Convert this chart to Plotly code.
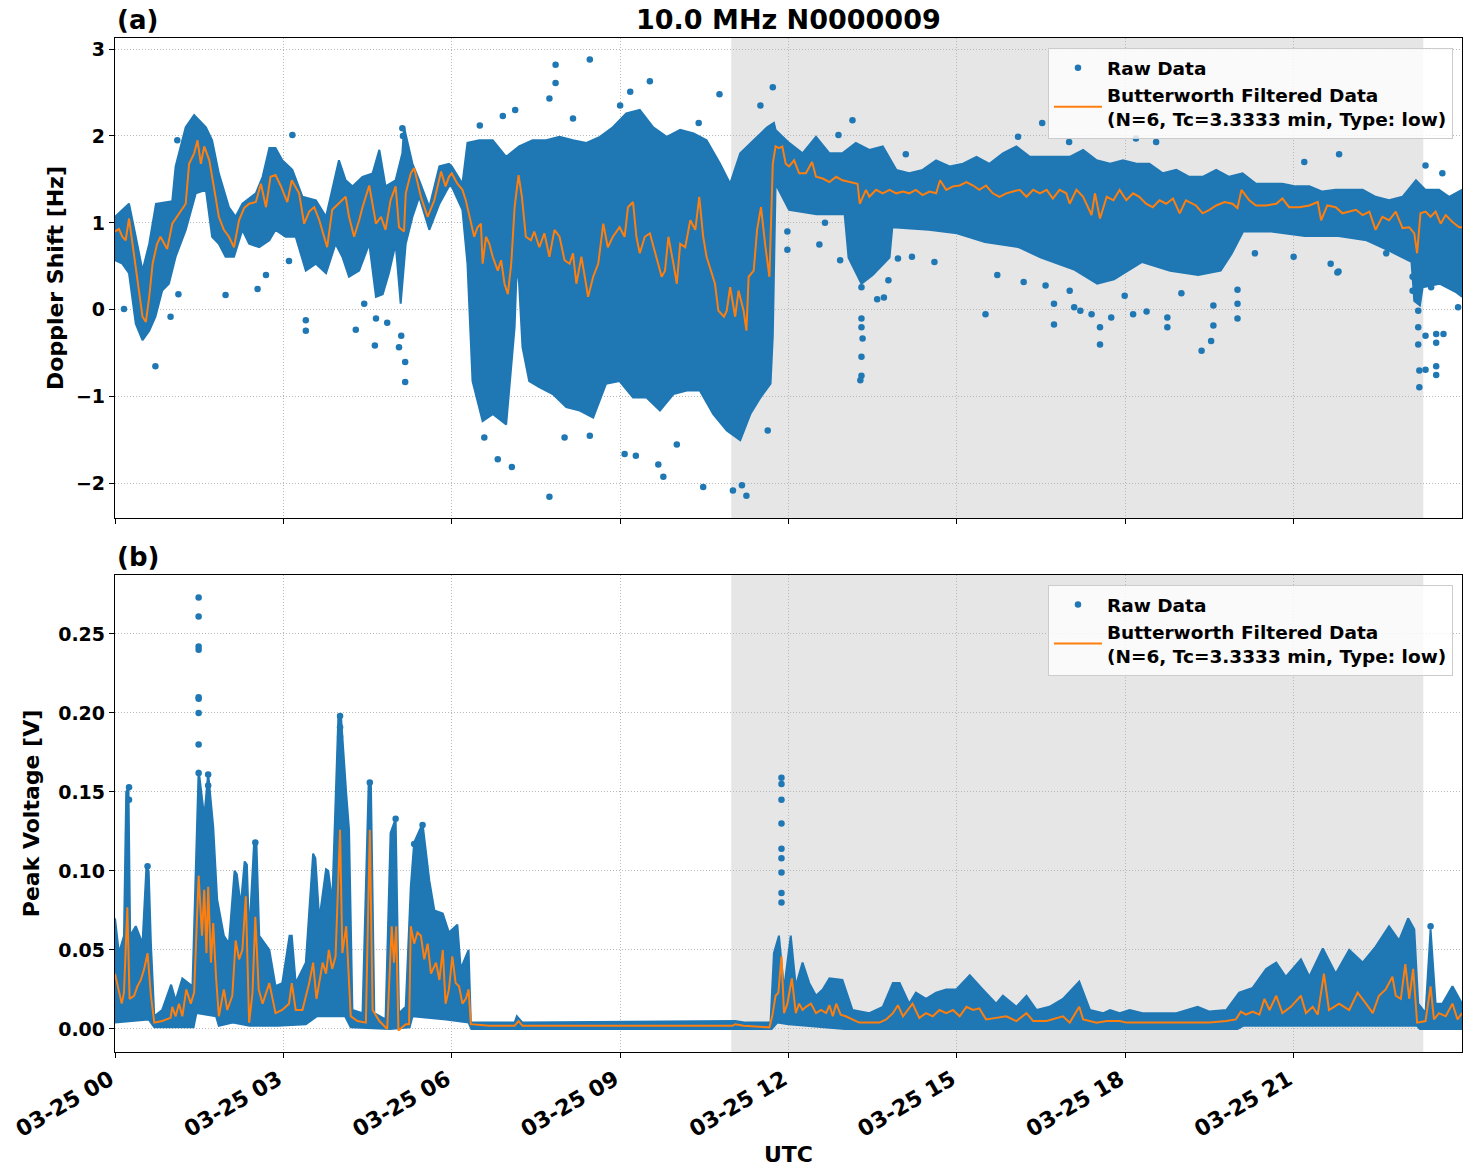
import pandas as pd
import plotly.graph_objects as go

BASE_DAY = "2024-03-25"
TITLE = "10.0 MHz N0000009"
TICK_HOURS = [0, 3, 6, 9, 12, 15, 18, 21]
TICK_LABELS = ["03-25 00", "03-25 03", "03-25 06", "03-25 09",
               "03-25 12", "03-25 15", "03-25 18", "03-25 21"]
NIGHT_START_H = 10.98
NIGHT_END_H = 23.31

# ---------- (a) Doppler shift [Hz] ----------
DOP_FILT = [(0.00,0.90),(0.07,0.93),(0.13,0.84),(0.19,0.80),(0.25,1.05),(0.34,0.61),(0.40,0.38),(0.49,-0.08),(0.55,-0.14),
 (0.61,0.15),(0.67,0.53),(0.75,0.76),(0.81,0.84),(0.93,0.70),(1.02,0.99),(1.14,1.11),(1.26,1.22),(1.32,1.68),(1.41,1.80),
 (1.47,1.95),(1.53,1.68),(1.59,1.88),(1.68,1.72),(1.76,1.42),(1.85,1.07),(1.94,0.92),(2.03,0.84),(2.12,0.72),(2.21,1.03),
 (2.30,1.17),(2.39,1.22),(2.51,1.24),(2.60,1.45),(2.69,1.18),(2.77,1.53),(2.86,1.55),(2.95,1.43),(3.07,1.24),(3.15,1.49),
 (3.28,1.34),(3.37,0.99),(3.46,1.13),(3.55,1.18),(3.64,1.03),(3.78,0.72),(3.87,1.15),(3.99,1.22),(4.11,1.30),(4.17,1.07),
 (4.26,0.84),(4.35,1.03),(4.41,1.18),(4.53,1.43),(4.65,0.99),(4.74,1.07),(4.82,0.92),(4.91,1.26),(5.00,1.42),(5.06,0.95),
 (5.15,0.90),(5.18,1.34),(5.27,1.57),(5.33,1.63),(5.45,1.30),(5.57,1.07),(5.69,1.26),(5.81,1.59),(5.89,1.42),(5.95,1.53),
 (6.00,1.57),(6.10,1.45),(6.19,1.38),(6.25,1.26),(6.34,0.99),(6.40,0.84),(6.46,0.95),(6.52,0.99),(6.55,0.53),(6.61,0.84),
 (6.67,0.76),(6.73,0.61),(6.82,0.45),(6.88,0.57),(6.94,0.30),(7.00,0.18),(7.06,0.53),(7.12,1.18),(7.19,1.55),(7.25,1.30),
 (7.32,0.84),(7.41,0.80),(7.47,0.90),(7.56,0.72),(7.65,0.88),(7.74,0.61),(7.83,0.92),(7.92,0.84),(8.01,0.57),(8.10,0.53),
 (8.16,0.65),(8.22,0.30),(8.31,0.61),(8.43,0.15),(8.52,0.38),(8.61,0.53),(8.70,0.99),(8.78,0.72),(8.87,0.84),(8.99,0.95),
 (9.08,0.84),(9.14,1.18),(9.23,1.24),(9.29,0.84),(9.35,0.65),(9.44,0.84),(9.53,0.88),(9.65,0.61),(9.74,0.38),(9.80,0.45),
 (9.86,0.84),(9.95,0.53),(10.01,0.30),(10.07,0.76),(10.16,0.72),(10.25,1.03),(10.34,0.92),(10.41,1.30),(10.48,0.84),
 (10.54,0.61),(10.60,0.49),(10.69,0.30),(10.75,-0.01),(10.85,-0.08),(10.90,-0.01),(10.96,0.26),(11.05,-0.08),(11.11,0.22),
 (11.20,-0.01),(11.25,-0.24),(11.29,0.38),(11.38,0.45),(11.44,0.92),(11.51,1.18),(11.59,0.72),(11.66,0.38),(11.72,1.68),
 (11.77,1.88),(11.83,1.86),(11.89,1.88),(11.95,1.68),(12.01,1.65),(12.10,1.72),(12.19,1.57),(12.31,1.57),(12.42,1.70),
 (12.49,1.53),(12.61,1.51),(12.73,1.47),(12.85,1.53),(12.96,1.49),(13.11,1.47),(13.23,1.45),(13.27,1.22),(13.38,1.38),
 (13.44,1.30),(13.56,1.38),(13.68,1.34),(13.80,1.38),(13.92,1.34),(14.04,1.36),(14.15,1.34),(14.27,1.38),(14.39,1.32),
 (14.51,1.36),(14.63,1.34),(14.70,1.49),(14.81,1.38),(14.93,1.42),(15.05,1.43),(15.17,1.47),(15.29,1.43),(15.40,1.38),
 (15.52,1.43),(15.64,1.34),(15.76,1.30),(15.88,1.34),(16.00,1.36),(16.12,1.38),(16.24,1.30),(16.36,1.38),(16.48,1.34),
 (16.60,1.38),(16.71,1.28),(16.83,1.38),(16.95,1.34),(17.01,1.22),(17.13,1.38),(17.25,1.30),(17.40,1.09),(17.46,1.34),
 (17.55,1.05),(17.67,1.30),(17.79,1.26),(17.90,1.38),(18.02,1.26),(18.14,1.34),(18.25,1.30),(18.37,1.22),(18.49,1.18),
 (18.61,1.26),(18.73,1.22),(18.85,1.28),(18.97,1.11),(19.08,1.26),(19.26,1.20),(19.38,1.11),(19.50,1.15),(19.62,1.20),
 (19.77,1.24),(19.91,1.22),(20.00,1.17),(20.07,1.38),(20.21,1.26),(20.33,1.20),(20.51,1.20),(20.69,1.22),(20.80,1.28),
 (20.92,1.18),(21.10,1.18),(21.28,1.20),(21.43,1.24),(21.49,1.03),(21.60,1.20),(21.75,1.18),(21.87,1.11),(21.99,1.13),
 (22.11,1.15),(22.23,1.09),(22.35,1.13),(22.46,0.92),(22.58,1.07),(22.70,1.03),(22.82,1.13),(22.94,0.94),(23.06,0.95),
 (23.15,0.88),(23.20,0.65),(23.26,1.11),(23.35,1.13),(23.44,1.07),(23.53,1.13),(23.62,0.99),(23.71,1.09),(23.83,1.01),
 (23.95,0.95),(24.00,0.95)]

DOP_RAW_UPPER = [(0.00,1.07),(0.25,1.22),(0.37,0.84),(0.49,0.45),(0.61,0.76),(0.73,1.22),(1.02,1.25),(1.08,1.65),
 (1.26,2.10),(1.41,2.24),(1.62,2.10),(1.73,1.95),(1.85,1.57),(2.03,1.18),(2.15,1.07),(2.27,1.22),(2.51,1.34),(2.63,1.53),
 (2.75,1.86),(2.86,1.86),(2.98,1.72),(3.16,1.61),(3.34,1.30),(3.58,1.26),(3.76,1.07),(3.99,1.72),(4.11,1.49),(4.23,1.42),
 (4.41,1.53),(4.59,1.57),(4.71,1.84),(4.82,1.42),(5.00,1.49),(5.12,1.80),(5.15,2.10),(5.30,1.68),(5.42,1.49),(5.60,1.18),
 (5.78,1.65),(5.95,1.68),(6.00,1.65),(6.19,1.45),(6.28,1.92),(6.49,1.95),(6.73,1.95),(6.97,1.76),(7.20,1.88),(7.44,1.95),
 (7.68,1.95),(7.92,1.99),(8.16,1.95),(8.40,1.92),(8.64,1.99),(8.87,2.10),(9.11,2.26),(9.35,2.30),(9.59,2.10),(9.83,1.99),
 (10.07,2.07),(10.31,2.03),(10.54,1.95),(10.78,1.68),(10.96,1.45),(11.14,1.80),(11.38,1.95),(11.62,2.10),(11.74,2.15),
 (11.77,2.07),(12.01,1.92),(12.25,1.80),(12.49,1.99),(12.73,1.80),(12.96,1.80),(13.20,1.92),(13.44,1.84),(13.68,1.88),
 (13.92,1.61),(14.15,1.57),(14.39,1.61),(14.63,1.72),(14.87,1.65),(15.11,1.68),(15.35,1.76),(15.58,1.68),(15.82,1.80),
 (16.06,1.88),(16.30,1.76),(16.54,1.76),(16.77,1.76),(17.01,1.76),(17.25,1.84),(17.49,1.72),(17.73,1.68),(17.96,1.72),
 (18.20,1.68),(18.43,1.68),(18.67,1.57),(18.91,1.61),(19.14,1.53),(19.38,1.53),(19.62,1.61),(19.85,1.53),(20.09,1.57),
 (20.33,1.45),(20.56,1.45),(20.80,1.45),(21.04,1.42),(21.28,1.42),(21.51,1.36),(21.75,1.38),(21.99,1.38),(22.23,1.38),
 (22.46,1.30),(22.70,1.26),(22.94,1.30),(23.18,1.49),(23.35,1.38),(23.59,1.38),(23.77,1.30),(24.00,1.38)]

DOP_RAW_LOWER = [(0.00,0.57),(0.13,0.53),(0.25,0.42),(0.37,-0.16),(0.49,-0.35),(0.61,-0.24),(0.72,-0.08),(0.84,0.22),
 (0.96,0.30),(1.08,0.61),(1.26,0.92),(1.44,1.34),(1.62,1.38),(1.73,0.84),(1.85,0.76),(1.97,0.61),(2.12,0.61),(2.27,0.92),
 (2.39,0.76),(2.57,0.72),(2.75,0.80),(2.86,0.92),(3.04,0.84),(3.22,0.84),(3.40,0.45),(3.58,0.53),(3.76,0.42),(3.93,0.76),
 (4.05,0.61),(4.17,0.38),(4.35,0.45),(4.53,0.76),(4.65,0.15),(4.77,0.18),(4.88,0.42),(5.00,0.76),(5.09,0.07),(5.18,0.76),
 (5.30,1.07),(5.42,1.30),(5.60,0.92),(5.78,1.22),(5.95,1.42),(6.00,1.42),(6.19,1.15),(6.28,0.53),(6.37,-0.82),(6.55,-1.28),
 (6.73,-1.20),(6.97,-1.32),(7.12,-0.20),(7.16,0.53),(7.20,0.30),(7.26,-0.43),(7.38,-0.82),(7.56,-0.89),(7.80,-0.97),
 (8.04,-1.12),(8.28,-1.16),(8.52,-1.24),(8.75,-0.85),(8.99,-0.82),(9.23,-1.01),(9.47,-1.01),(9.71,-1.16),(9.95,-0.97),
 (10.19,-0.93),(10.42,-0.93),(10.66,-1.20),(10.90,-1.39),(11.14,-1.50),(11.32,-1.20),(11.50,-1.01),(11.68,-0.85),
 (11.72,-0.30),(11.74,0.53),(11.77,1.45),(12.01,1.15),(12.50,1.10),(13.00,1.10),(13.07,0.60),(13.30,0.30),(13.50,0.40),
 (13.80,0.60),(13.85,0.95),(14.50,0.92),(15.00,0.88),(15.50,0.78),(16.10,0.72),(16.50,0.60),(17.10,0.46),(17.50,0.30),
 (17.80,0.35),(18.30,0.55),(18.80,0.45),(19.30,0.40),(19.70,0.45),(19.90,0.65),(20.10,0.90),(20.60,0.90),(21.20,0.85),
 (21.80,0.85),(22.30,0.80),(22.70,0.68),(23.10,0.55),(23.15,0.10),(23.25,0.05),(23.30,0.26),(23.60,0.30),(23.90,0.20),
 (24.00,0.15)]

DOP_RAW_SCATTER = [(0.16,0.01),(0.72,-0.65),(1.11,1.95),(3.16,2.01),(3.40,-0.24),(3.40,-0.12),(5.12,2.09),(5.17,-0.83),
 (5.17,-0.60),(5.06,-0.43),(4.63,-0.41),(4.29,-0.23),(4.44,0.07),(1.97,0.17),(2.54,0.24),(2.69,0.40),(3.10,0.56),(0.99,-0.08),
 (1.13,0.18),(5.13,2.00),(5.10,-0.30),(4.65,-0.10),(4.85,-0.15),(7.85,2.82),(8.46,2.88),(7.85,2.61),(9.53,2.63),(9.18,2.51),
 (7.13,2.30),(7.74,2.43),(6.91,2.23),(10.77,2.48),(11.72,2.56),(7.74,-2.15),(7.07,-1.81),(6.82,-1.72),(9.77,-1.92),
 (10.48,-2.04),(11.25,-2.14),(11.01,-2.08),(11.17,-2.02),(6.58,-1.47),(8.01,-1.47),(8.46,-1.45),(9.08,-1.66),(9.28,-1.68),
 (9.68,-1.78),(10.01,-1.55),(11.63,-1.39),(8.16,2.20),(9.00,2.35),(10.40,2.15),(6.50,2.12),(11.50,2.35),(13.14,2.18),
 (16.52,2.15),(17.00,1.93),(16.09,1.99),(12.89,2.01),(14.09,1.79),
 (11.98,0.90),(11.98,0.69),(12.65,1.00),(12.55,0.75),(12.92,0.57),(13.30,0.26),(13.30,-0.10),(13.30,-0.20),(13.32,-0.33),
 (13.30,-0.54),(13.30,-0.76),(13.28,-0.81),(13.58,0.12),(13.70,0.14),(13.78,0.34),(13.95,0.59),(14.20,0.61),(14.60,0.55),
 (15.51,-0.05),(15.72,0.40),(16.19,0.32),(16.58,0.28),(16.73,-0.17),(16.73,0.07),(17.01,0.22),(17.09,0.03),(17.20,-0.01),
 (17.40,-0.05),(17.55,-0.20),(17.55,-0.40),(17.75,-0.09),(17.99,0.16),(18.14,-0.05),(18.38,-0.02),(18.75,-0.20),
 (18.75,-0.09),(19.00,0.19),(19.36,-0.47),(19.53,-0.36),(19.57,-0.18),(19.57,0.05),(20.00,-0.10),(20.00,0.07),(20.00,0.23),
 (20.31,0.65),(21.00,0.61),(21.66,0.53),(21.80,0.44),(22.65,0.65),(23.12,0.38),(23.12,0.22),(23.22,-0.01),(23.22,-0.20),
 (23.22,-0.40),(23.24,-0.70),(23.24,-0.89),(23.35,-0.69),(23.35,-0.30),(23.54,-0.28),(23.54,-0.65),(23.54,-0.75),
 (23.54,-0.38),(23.45,0.26),(23.67,-0.28),(21.78,0.43),(23.93,0.03),(21.81,1.79),(18.55,1.93),(18.19,1.97),
 (23.35,1.66),(23.65,1.57),(21.19,1.70)]

# ---------- (b) Peak voltage [V] ----------
VOLT_FILT = [(0.00,0.035),(0.07,0.023),(0.12,0.016),(0.16,0.023),(0.22,0.077),(0.26,0.019),(0.34,0.021),(0.40,0.027),
 (0.46,0.031),(0.52,0.038),(0.58,0.048),(0.64,0.021),(0.70,0.004),(0.84,0.005),(0.99,0.007),(1.02,0.014),(1.08,0.008),
 (1.14,0.016),(1.20,0.008),(1.27,0.025),(1.35,0.016),(1.41,0.023),(1.49,0.097),(1.55,0.059),(1.59,0.088),(1.63,0.048),
 (1.66,0.090),(1.71,0.042),(1.75,0.067),(1.80,0.033),(1.85,0.008),(1.94,0.025),(2.00,0.012),(2.09,0.021),(2.15,0.056),
 (2.21,0.044),(2.27,0.050),(2.33,0.084),(2.39,0.004),(2.45,0.023),(2.50,0.071),(2.56,0.025),(2.63,0.016),(2.75,0.029),
 (2.86,0.010),(2.98,0.012),(3.10,0.016),(3.15,0.029),(3.22,0.012),(3.34,0.012),(3.46,0.029),(3.53,0.042),(3.59,0.019),
 (3.70,0.042),(3.76,0.035),(3.81,0.050),(3.87,0.038),(3.93,0.046),(4.01,0.126),(4.05,0.048),(4.12,0.065),(4.20,0.008),
 (4.32,0.005),(4.47,0.004),(4.54,0.126),(4.59,0.012),(4.71,0.005),(4.85,0.000),(4.93,0.065),(4.97,0.042),(5.01,0.065),
 (5.05,-0.001),(5.18,0.003),(5.24,0.003),(5.27,0.065),(5.33,0.054),(5.39,0.061),(5.45,0.059),(5.51,0.044),(5.57,0.054),
 (5.63,0.035),(5.72,0.042),(5.78,0.031),(5.84,0.050),(5.89,0.016),(5.95,0.025),(6.01,0.046),(6.07,0.029),(6.13,0.027),
 (6.19,0.016),(6.25,0.019),(6.30,0.025),(6.34,0.003),(6.67,0.002),(7.12,0.002),(7.19,0.005),(7.26,0.002),(8.16,0.002),
 (10.50,0.002),(11.00,0.002),(11.05,0.003),(11.20,0.002),(11.66,0.001),(11.71,0.008),(11.77,0.021),(11.82,0.023),
 (11.875,0.046),(11.92,0.010),(11.98,0.016),(12.06,0.032),(12.13,0.010),(12.19,0.016),(12.25,0.012),(12.31,0.014),
 (12.40,0.016),(12.49,0.010),(12.58,0.012),(12.67,0.010),(12.73,0.015),(12.79,0.008),(12.85,0.016),(12.93,0.009),
 (13.02,0.008),(13.14,0.006),(13.26,0.004),(13.44,0.004),(13.62,0.004),(13.74,0.006),(13.86,0.010),(13.95,0.015),
 (14.04,0.008),(14.21,0.016),(14.33,0.007),(14.45,0.010),(14.57,0.008),(14.69,0.012),(14.81,0.010),(14.93,0.012),
 (15.05,0.008),(15.17,0.014),(15.29,0.012),(15.40,0.013),(15.52,0.006),(15.70,0.007),(15.88,0.008),(16.06,0.005),
 (16.24,0.010),(16.36,0.005),(16.60,0.005),(16.89,0.008),(17.01,0.004),(17.18,0.014),(17.25,0.006),(17.49,0.004),
 (17.67,0.005),(17.90,0.005),(18.02,0.004),(18.31,0.004),(18.61,0.004),(18.91,0.004),(19.20,0.004),(19.50,0.004),
 (19.80,0.005),(19.97,0.006),(20.06,0.011),(20.15,0.009),(20.27,0.011),(20.39,0.009),(20.48,0.019),(20.57,0.012),
 (20.69,0.021),(20.80,0.010),(20.95,0.014),(21.13,0.021),(21.22,0.010),(21.34,0.014),(21.43,0.009),(21.54,0.035),
 (21.63,0.012),(21.81,0.016),(21.99,0.012),(22.14,0.023),(22.29,0.016),(22.41,0.010),(22.52,0.021),(22.64,0.025),
 (22.76,0.033),(22.82,0.021),(22.91,0.019),(22.99,0.041),(23.06,0.019),(23.13,0.038),(23.20,0.004),(23.35,0.005),
 (23.44,0.027),(23.50,0.006),(23.59,0.010),(23.71,0.008),(23.83,0.016),(23.92,0.006),(24.00,0.010)]

VOLT_RAW_UPPER = [(0.00,0.070),(0.07,0.048),(0.16,0.059),(0.20,0.150),(0.24,0.153),(0.27,0.059),(0.37,0.065),(0.49,0.054),
 (0.56,0.103),(0.60,0.100),(0.64,0.054),(0.70,0.008),(0.84,0.012),(1.00,0.028),(1.08,0.018),(1.20,0.032),(1.38,0.027),
 (1.45,0.116),(1.49,0.164),(1.59,0.134),(1.66,0.162),(1.75,0.128),(1.82,0.082),(1.94,0.059),(2.03,0.054),(2.13,0.100),
 (2.17,0.098),(2.24,0.078),(2.31,0.106),(2.35,0.104),(2.39,0.059),(2.48,0.119),(2.52,0.118),(2.57,0.059),(2.75,0.050),
 (2.86,0.027),(2.98,0.029),(3.11,0.059),(3.15,0.059),(3.22,0.029),(3.40,0.042),(3.53,0.111),(3.57,0.108),(3.64,0.069),
 (3.76,0.101),(3.80,0.100),(3.87,0.080),(3.98,0.198),(4.03,0.196),(4.12,0.149),(4.17,0.126),(4.23,0.012),(4.41,0.010),
 (4.52,0.156),(4.56,0.154),(4.62,0.010),(4.82,0.006),(4.91,0.124),(5.00,0.133),(5.06,0.010),(5.18,0.014),(5.27,0.090),
 (5.33,0.118),(5.48,0.130),(5.60,0.094),(5.69,0.075),(5.84,0.073),(5.95,0.061),(6.10,0.066),(6.16,0.038),(6.30,0.050),
 (6.34,0.004),(7.12,0.004),(7.16,0.008),(7.26,0.004),(11.05,0.005),(11.24,0.004),(11.68,0.004),(11.74,0.048),
 (11.83,0.059),(11.92,0.025),(12.04,0.059),(12.13,0.027),(12.25,0.042),(12.37,0.029),(12.49,0.021),(12.61,0.025),
 (12.73,0.032),(12.96,0.031),(13.14,0.012),(13.44,0.010),(13.68,0.014),(13.86,0.029),(13.98,0.029),(14.15,0.016),
 (14.27,0.023),(14.45,0.019),(14.63,0.023),(14.81,0.025),(14.99,0.025),(15.23,0.034),(15.46,0.025),(15.70,0.016),
 (15.82,0.021),(16.06,0.014),(16.24,0.021),(16.42,0.012),(16.65,0.014),(16.89,0.019),(17.18,0.030),(17.37,0.012),
 (17.61,0.010),(17.73,0.012),(17.90,0.010),(18.08,0.012),(18.31,0.010),(18.67,0.010),(18.91,0.010),(19.29,0.014),
 (19.50,0.011),(19.80,0.012),(20.03,0.023),(20.27,0.026),(20.51,0.038),(20.69,0.042),(20.86,0.033),(21.13,0.044),
 (21.28,0.033),(21.52,0.051),(21.75,0.035),(21.99,0.050),(22.23,0.042),(22.46,0.052),(22.70,0.065),(22.88,0.056),
 (23.04,0.070),(23.15,0.063),(23.22,0.016),(23.35,0.010),(23.44,0.063),(23.53,0.016),(23.65,0.016),(23.83,0.027),
 (24.00,0.016)]

VOLT_RAW_LOWER = [(0.00,0.004),(0.60,0.006),(0.70,0.001),(1.40,0.001),(1.45,0.010),(1.80,0.008),(1.85,0.002),(2.10,0.004),
 (2.40,0.002),(2.90,0.002),(3.40,0.003),(3.60,0.008),(4.10,0.008),(4.20,0.001),(4.90,0.000),(5.25,0.001),(5.30,0.008),
 (5.90,0.006),(6.30,0.004),(6.35,0.000),(11.70,0.000),(11.80,0.004),(12.00,0.003),(13.00,0.000),(20.00,0.000),
 (20.10,0.002),(23.20,0.002),(23.25,0.000),(24.00,0.000)]

VOLT_RAW_SCATTER = [(1.49,0.273),(1.49,0.261),(1.49,0.242),(1.49,0.240),(1.49,0.210),(1.49,0.209),(1.49,0.200),
 (1.49,0.180),(1.49,0.162),(1.66,0.161),(1.66,0.154),(0.25,0.153),(0.25,0.145),(0.58,0.103),(2.50,0.118),(5.48,0.129),
 (4.01,0.198),(4.01,0.191),(4.01,0.185),(4.01,0.175),(4.54,0.156),(5.00,0.133),(5.33,0.117),(11.875,0.159),
 (11.875,0.155),(11.875,0.145),(11.875,0.130),(11.875,0.114),(11.875,0.108),(11.875,0.099),(11.875,0.086),
 (11.875,0.080),(23.44,0.065)]

# ---------- helpers ----------
base = pd.Timestamp(BASE_DAY)


def to_time(hours):
    return list(base + pd.to_timedelta(list(hours), unit="h"))


def split(pairs):
    h = [p[0] for p in pairs]
    v = [p[1] for p in pairs]
    return to_time(h), v


BLUE = "#1f77b4"
ORANGE = "#ff7f0e"
FONT = "DejaVu Sans"

fig = go.Figure()

panels = [
    ("x", "y", "legend", DOP_RAW_UPPER, DOP_RAW_LOWER, DOP_RAW_SCATTER, DOP_FILT),
    ("x2", "y2", "legend2", VOLT_RAW_UPPER, VOLT_RAW_LOWER, VOLT_RAW_SCATTER, VOLT_FILT),
]
for xa, ya, lg, up, lo, sc, fl in panels:
    ux, uy = split(up)
    lx, ly = split(lo)
    fig.add_trace(go.Scatter(
        x=ux + lx[::-1], y=uy + ly[::-1], fill="toself", fillcolor=BLUE,
        mode="lines", line=dict(color=BLUE, width=2), showlegend=False,
        hoverinfo="skip", xaxis=xa, yaxis=ya))
    sx, sy = split(sc)
    fig.add_trace(go.Scatter(
        x=sx, y=sy, mode="markers", name="Raw Data",
        marker=dict(color=BLUE, size=6.5), xaxis=xa, yaxis=ya, legend=lg))
    fx, fy = split(fl)
    fig.add_trace(go.Scatter(
        x=fx, y=fy, mode="lines",
        name="Butterworth Filtered Data<br>(N=6, Tc=3.3333 min, Type: low)",
        line=dict(color=ORANGE, width=2), xaxis=xa, yaxis=ya, legend=lg))

x_range = to_time([0, 24])
night = to_time([NIGHT_START_H, NIGHT_END_H])
for xr, yr in (("x", "y domain"), ("x2", "y2 domain")):
    fig.add_shape(type="rect", xref=xr, yref=yr, x0=night[0], x1=night[1],
                  y0=0, y1=1, fillcolor="#e6e6e6", line=dict(width=0), layer="below")

axis_common = dict(showline=True, linecolor="black", linewidth=1.3, mirror=True,
                   ticks="outside", ticklen=5, tickcolor="black",
                   showgrid=True, gridcolor="#b8b8b8", griddash="1px,2px", gridwidth=1,
                   zeroline=False,
                   tickfont=dict(family=FONT, size=19, color="black", weight="bold"))
title_font = dict(family=FONT, size=22, color="black", weight="bold")
legend_font = dict(family=FONT, size=18.5, color="black", weight="bold")

top_dom = [0.5266, 1.0]
bot_dom = [0.0, 0.4704]
tick_times = to_time(TICK_HOURS)

fig.update_layout(
    width=1471, height=1172,
    margin=dict(l=115, r=9, t=38, b=120),
    paper_bgcolor="white", plot_bgcolor="white",
    font=dict(family=FONT, color="black"),
    xaxis=dict(axis_common, domain=[0, 1], anchor="y", range=x_range,
               tickvals=tick_times, showticklabels=False),
    yaxis=dict(axis_common, domain=top_dom, anchor="x", range=[-2.396, 3.127],
               tickvals=[-2, -1, 0, 1, 2, 3],
               title=dict(text="Doppler Shift [Hz]", font=title_font, standoff=6)),
    xaxis2=dict(axis_common, domain=[0, 1], anchor="y2", range=x_range,
                tickvals=tick_times, ticktext=TICK_LABELS, tickangle=-30,
                ticklabelshift=-5, ticklabelstandoff=0,
                tickfont=dict(family=FONT, size=22, color="black", weight="bold"),
                title=dict(text="UTC", font=title_font, standoff=0)),
    yaxis2=dict(axis_common, domain=bot_dom, anchor="x2", range=[-0.0146, 0.2873],
                tickvals=[0, 0.05, 0.10, 0.15, 0.20, 0.25], tickformat=".2f",
                title=dict(text="Peak Voltage [V]", font=title_font, standoff=12)),
    legend=dict(x=0.9933, xanchor="right", y=0.990, yanchor="top", itemwidth=48,
                bgcolor="rgba(255,255,255,0.8)", bordercolor="#cccccc", borderwidth=1,
                font=legend_font),
    legend2=dict(x=0.9933, xanchor="right", y=0.4606, yanchor="top", itemwidth=48,
                 bgcolor="rgba(255,255,255,0.8)", bordercolor="#cccccc", borderwidth=1,
                 font=legend_font),
)

fig.add_annotation(text=TITLE, xref="paper", yref="paper", x=0.5, y=1.0,
                   xanchor="center", yanchor="bottom", yshift=1, showarrow=False,
                   font=dict(family=FONT, size=27, color="black", weight="bold"))
for label, ytop in (("(a)", 1.0), ("(b)", bot_dom[1])):
    fig.add_annotation(text=label, xref="paper", yref="paper", x=0.0, y=ytop,
                       xanchor="left", yanchor="bottom", yshift=1, showarrow=False,
                       font=dict(family=FONT, size=26, color="black", weight="bold"))

fig.write_html("out.html")
